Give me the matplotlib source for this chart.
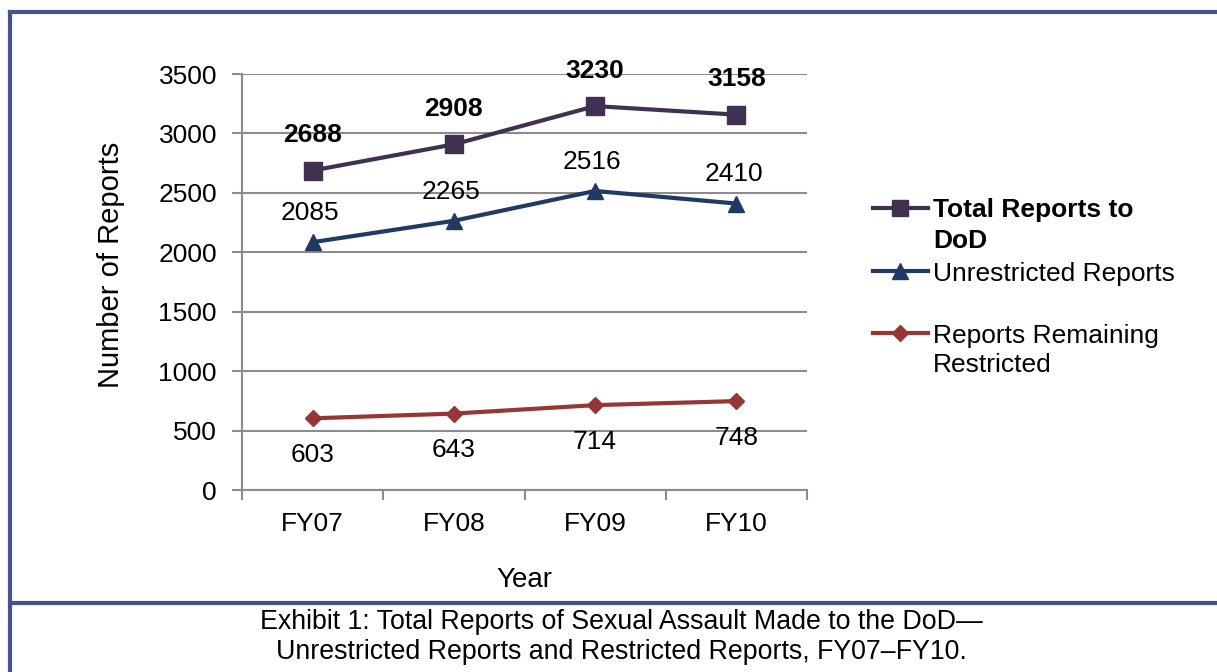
import matplotlib.pyplot as plt
from matplotlib.lines import Line2D

plt.rcParams['font.family'] = ['Liberation Sans', 'DejaVu Sans']

years = ["FY07", "FY08", "FY09", "FY10"]
total = [2688, 2908, 3230, 3158]
unrestricted = [2085, 2265, 2516, 2410]
restricted = [603, 643, 714, 748]

c_total = '#403152'
c_unres = '#1F3B64'
c_res = '#953735'
c_grid = '#8C8C8C'
c_frame = '#44548A'

W, H = 1217, 672
fig = plt.figure(figsize=(W / 100, H / 100), dpi=100)
ax = fig.add_axes([242/W, 182/H, 565/W, 416/H])

x = range(len(years))
ax.plot(x, total, color=c_total, lw=3, marker='s', ms=12.5, zorder=3)
ax.plot(x, unrestricted, color=c_unres, lw=3, marker='^', ms=11.5, zorder=3)
ax.plot(x, restricted, color=c_res, lw=3, marker='D', ms=8.5, zorder=3)

# data labels
for i, v in enumerate(total):
    ax.annotate(str(v), (i, v), xytext=(0, 25.5), textcoords='offset points',
                ha='center', va='center', fontsize=19, fontweight='bold')
for i, v in enumerate(unrestricted):
    ax.annotate(str(v), (i, v), xytext=(-2, 21), textcoords='offset points',
                ha='center', va='center', fontsize=19)
for i, v in enumerate(restricted):
    ax.annotate(str(v), (i, v), xytext=(0, -26.5), textcoords='offset points',
                ha='center', va='center', fontsize=19)

ax.set_xlim(-0.5, 3.5)
ax.set_ylim(0, 3500)
ax.set_yticks(range(0, 3501, 500))
ax.set_xticks(list(x))
ax.set_xticklabels(years)
ax.set_xticks([-0.5, 0.5, 1.5, 2.5, 3.5], minor=True)
ax.tick_params(axis='x', which='major', length=0, pad=16, labelsize=19)
ax.tick_params(axis='x', which='minor', length=7, color=c_grid, width=1.5)
ax.tick_params(axis='y', length=7, color=c_grid, width=1.5, pad=11, labelsize=19)
ax.grid(axis='y', color=c_grid, lw=1.5)
ax.set_axisbelow(True)
for s in ['top', 'right']:
    ax.spines[s].set_visible(False)
for s in ['left', 'bottom']:
    ax.spines[s].set_color(c_grid)
    ax.spines[s].set_linewidth(1.5)

ax.set_xlabel("Year", fontsize=20, labelpad=22)
ax.set_ylabel("Number of Reports", fontsize=21, labelpad=24)
ax.yaxis.label.set_y(0.54)

# legend, drawn by hand so the handle sits on the first text line
leg = [
    (c_total, 's', 12, ["Total Reports to", "DoD"], 'bold', 208),
    (c_unres, '^', 11, ["Unrestricted Reports"], 'normal', 271),
    (c_res, 'D', 8.5, ["Reports Remaining", "Restricted"], 'normal', 333),
]
for col, mk, ms, lines, fw, ypx in leg:
    yf = 1 - ypx / H
    fig.add_artist(Line2D([873/W, 900/W, 928/W], [yf, yf, yf], color=col, lw=3,
                          marker=mk, ms=ms, markevery=[1], transform=fig.transFigure))
    for k, txt in enumerate(lines):
        fig.text(933/W, 1 - (ypx + 30 * k) / H, txt, fontsize=19, fontweight=fw,
                 ha='left', va='center_baseline')

# frame
fr = dict(color=c_frame, lw=3, transform=fig.transFigure)
fig.add_artist(Line2D([9.5/W, 9.5/W], [0, 1 - 12/H], **fr))
fig.add_artist(Line2D([9.5/W, 1], [1 - 12/H, 1 - 12/H], **fr))
fig.add_artist(Line2D([9.5/W, 1], [1 - 602.5/H, 1 - 602.5/H], **fr))

fig.text(621/W, 1 - 622/H, "Exhibit 1: Total Reports of Sexual Assault Made to the DoD\u2014",
         ha='center', va='center', fontsize=19.3)
fig.text(621/W, 1 - 652/H, "Unrestricted Reports and Restricted Reports, FY07\u2013FY10.",
         ha='center', va='center', fontsize=19.3)

fig.savefig("out.png", dpi=100)
